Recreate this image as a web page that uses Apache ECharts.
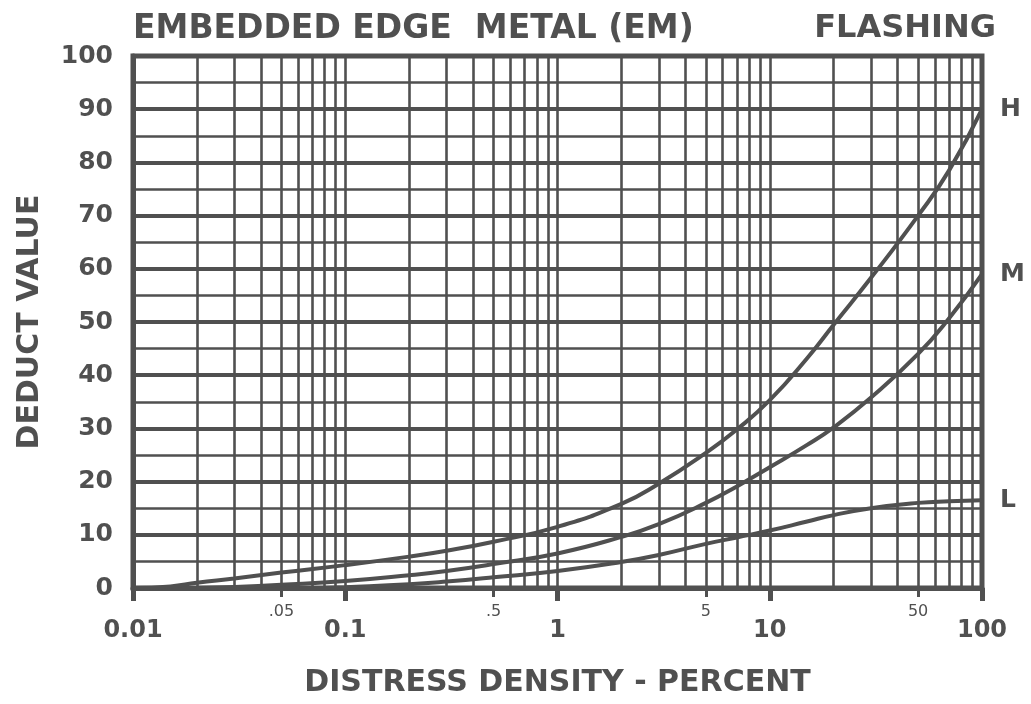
<!DOCTYPE html>
<html>
<head>
<meta charset="utf-8">
<script src="https://cdn.jsdelivr.net/npm/echarts@6/dist/echarts.min.js"></script>
<style>
  html, body { margin: 0; padding: 0; background: #ffffff; }
  #chart { width: 1031px; height: 704px; }
</style>
</head>
<body>
<div id="chart"></div>
<script>
// ---- Data ----
const titleLeft = 'EMBEDDED EDGE  METAL (EM)';
const titleRight = 'FLASHING';
const xAxisName = 'DISTRESS DENSITY - PERCENT';
const yAxisName = 'DEDUCT VALUE';

const majorXTicks = [0.01, 0.1, 1, 10, 100];
const majorXLabels = ['0.01', '0.1', '1', '10', '100'];
const minorXTicks = [0.05, 0.5, 5, 50];
const minorXLabels = ['.05', '.5', '5', '50'];
const gridXValues = [
  0.02, 0.03, 0.04, 0.05, 0.06, 0.07, 0.08, 0.09, 0.1,
  0.2, 0.3, 0.4, 0.5, 0.6, 0.7, 0.8, 0.9, 1,
  2, 3, 4, 5, 6, 7, 8, 9, 10,
  20, 30, 40, 50, 60, 70, 80, 90
];

const hX = [0.01, 0.015, 0.02, 0.03, 0.05, 0.1, 0.2, 0.3, 0.5, 1, 2, 3, 5, 7, 10, 15, 20, 30, 50, 70, 100];
const hY = [0, 0.3, 1.0, 1.8, 2.9, 4.3, 5.9, 7.0, 8.7, 11.5, 15.8, 19.6, 25.4, 29.8, 35.3, 43.2, 49.5, 58.3, 70, 78.5, 90];

const mX = [0.02, 0.03, 0.05, 0.1, 0.2, 0.3, 0.5, 1, 2, 3, 5, 7, 10, 15, 20, 30, 50, 70, 100];
const mY = [0, 0.2, 0.6, 1.3, 2.4, 3.2, 4.5, 6.5, 9.6, 12, 16, 19.1, 22.7, 26.9, 30.2, 35.8, 44, 50.7, 59];

const lX = [0.08, 0.1, 0.2, 0.3, 0.5, 1, 2, 3, 5, 7, 10, 15, 20, 30, 50, 70, 100];
const lY = [0, 0.15, 0.7, 1.2, 2.0, 3.2, 4.9, 6.2, 8.3, 9.5, 10.8, 12.5, 13.7, 15.0, 16.0, 16.3, 16.5];

// ---- Styling ----
const INK = '#505050';
const FONT = 'DejaVu Sans';

function pairs(xs, ys) { return xs.map((x, i) => [x, ys[i]]); }

const chart = echarts.init(document.getElementById('chart'), null, { renderer: 'canvas' });

function curve(name, xs, ys) {
  return {
    name: name,
    type: 'line',
    xAxisIndex: 0,
    yAxisIndex: 0,
    data: pairs(xs, ys),
    smooth: 0.5,
    showSymbol: false,
    symbol: 'none',
    silent: true,
    lineStyle: { color: INK, width: 4 },
    endLabel: {
      show: true,
      formatter: name,
      color: INK,
      fontFamily: FONT,
      fontWeight: 'bold',
      fontSize: 25,
      distance: 18
    },
    z: 5
  };
}

const option = {
  backgroundColor: '#ffffff',
  animation: false,
  title: [
    { text: titleLeft, left: 128, top: 8,
      textStyle: { color: INK, fontFamily: FONT, fontWeight: 'bold', fontSize: 33 } },
    { text: titleRight, right: 30, top: 8,
      textStyle: { color: INK, fontFamily: FONT, fontWeight: 'bold', fontSize: 32 } }
  ],
  grid: {
    left: 133, right: 49, top: 56, bottom: 116,
    show: true, borderColor: INK, borderWidth: 5, backgroundColor: 'transparent'
  },
  xAxis: [
    {
      type: 'log', logBase: 10, min: 0.01, max: 100,
      name: xAxisName, nameLocation: 'middle', nameGap: 80,
      nameTextStyle: { color: INK, fontFamily: FONT, fontWeight: 'bold', fontSize: 30 },
      axisLine: { show: true, lineStyle: { color: INK, width: 5 } },
      axisTick: { show: true, customValues: majorXTicks, length: 13, lineStyle: { color: INK, width: 5 } },
      axisLabel: {
        customValues: majorXTicks, margin: 31, color: INK, fontFamily: FONT, fontWeight: 'bold', fontSize: 24,
        formatter: function (v) {
          const i = majorXTicks.findIndex(t => Math.abs(Math.log10(t) - Math.log10(v)) < 1e-6);
          return i >= 0 ? majorXLabels[i] : '';
        }
      },
      splitLine: { show: false }
    },
    {
      type: 'log', logBase: 10, min: 0.01, max: 100, position: 'bottom', gridIndex: 0,
      axisLine: { show: false },
      axisTick: { show: true, customValues: minorXTicks, length: 9, lineStyle: { color: INK, width: 3 } },
      axisLabel: {
        customValues: minorXTicks, margin: 16, color: INK, fontFamily: FONT, fontSize: 16,
        formatter: function (v) {
          const i = minorXTicks.findIndex(t => Math.abs(Math.log10(t) - Math.log10(v)) < 1e-6);
          return i >= 0 ? minorXLabels[i] : '';
        }
      },
      splitLine: { show: false }
    }
  ],
  yAxis: {
    type: 'value', min: 0, max: 100, interval: 10,
    name: yAxisName, nameLocation: 'middle', nameGap: 88, nameRotate: 90,
    nameTextStyle: { color: INK, fontFamily: FONT, fontWeight: 'bold', fontSize: 30 },
    axisLine: { show: true, lineStyle: { color: INK, width: 5 } },
    axisTick: { show: false },
    axisLabel: { margin: 20, color: INK, fontFamily: FONT, fontWeight: 'bold', fontSize: 25 },
    splitLine: { show: true, lineStyle: { color: INK, width: 4 } },
    minorTick: { show: false, splitNumber: 2 },
    minorSplitLine: { show: true, lineStyle: { color: INK, width: 2.5 } }
  },
  series: [
    {
      name: 'grid', type: 'line', xAxisIndex: 0, yAxisIndex: 0, data: [], silent: true,
      markLine: {
        silent: true, symbol: ['none', 'none'], animation: false,
        label: { show: false },
        lineStyle: { color: INK, width: 2.6, type: 'solid' },
        data: gridXValues.map(v => ({ xAxis: v }))
      },
      z: 1
    },
    curve('H', hX, hY),
    curve('M', mX, mY),
    curve('L', lX, lY)
  ]
};

chart.setOption(option);
</script>
</body>
</html>
